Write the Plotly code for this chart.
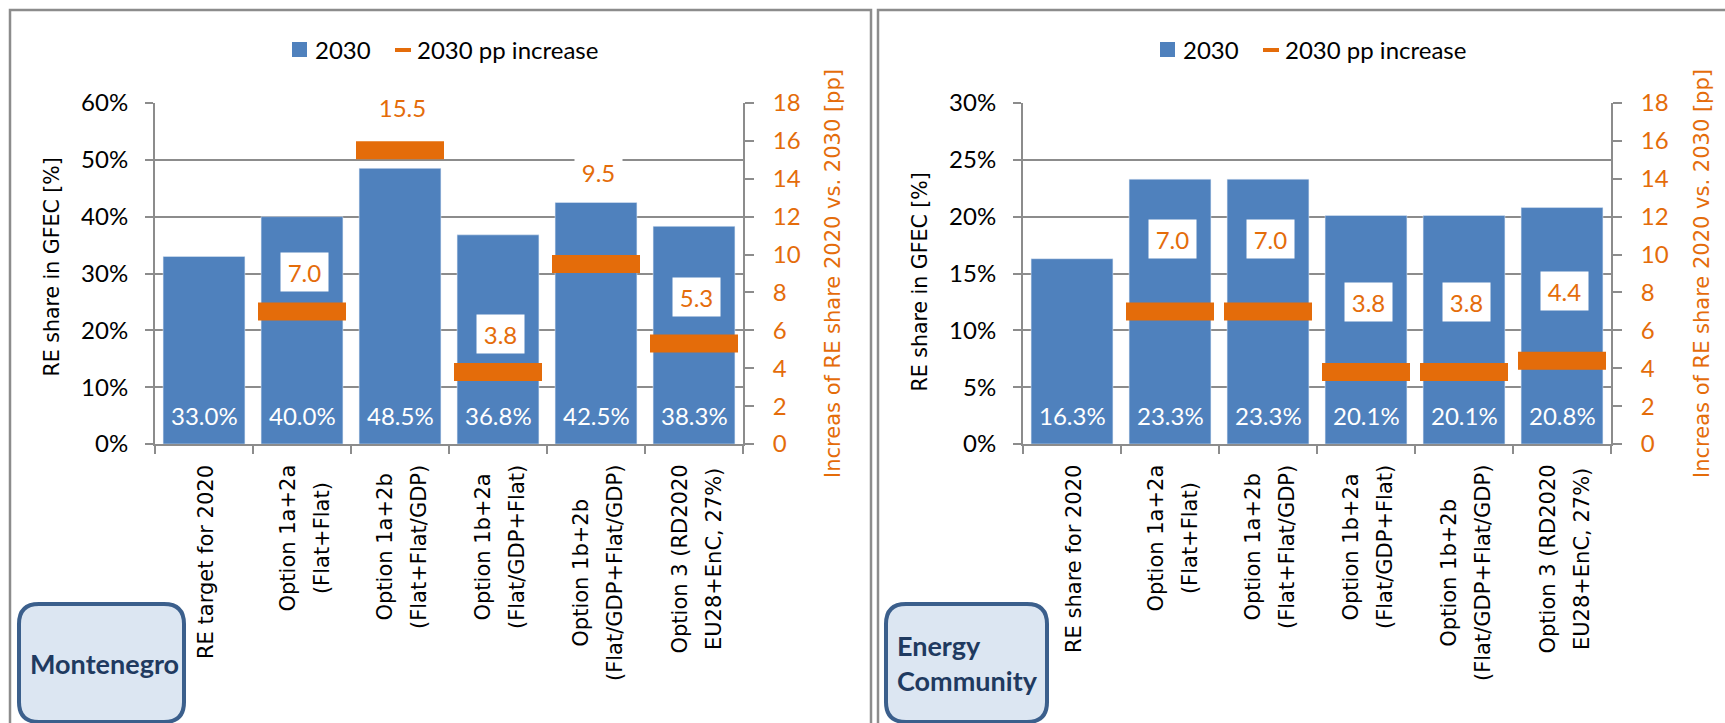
import plotly.graph_objects as go

W, H = 1725, 723

# ---- data -------------------------------------------------------------
categories_me = [
    "RE target for 2020",
    "Option 1a+2a<br>(Flat+Flat)",
    "Option 1a+2b<br>(Flat+Flat/GDP)",
    "Option 1b+2a<br>(Flat/GDP+Flat)",
    "Option 1b+2b<br>(Flat/GDP+Flat/GDP)",
    "Option 3 (RD2020<br>EU28+EnC, 27%)",
]
categories_enc = [
    "RE share for 2020",
    "Option 1a+2a<br>(Flat+Flat)",
    "Option 1a+2b<br>(Flat+Flat/GDP)",
    "Option 1b+2a<br>(Flat/GDP+Flat)",
    "Option 1b+2b<br>(Flat/GDP+Flat/GDP)",
    "Option 3 (RD2020<br>EU28+EnC, 27%)",
]
share_2030_me = [0.330, 0.400, 0.485, 0.368, 0.425, 0.383]
increase_pp_me = [None, 7.0, 15.5, 3.8, 9.5, 5.3]
share_2030_enc = [0.163, 0.233, 0.233, 0.201, 0.201, 0.208]
increase_pp_enc = [None, 7.0, 7.0, 3.8, 3.8, 4.4]

series_names = ["2030", "2030 pp increase"]

# ---- styling ----------------------------------------------------------
BLUE = "#4F81BD"
ORANGE = "#E46C0A"
GRID = "#8C8C8C"
NUM_FONT = "Lato"
TXT_FONT = "DejaVu Sans"

# pixel lift of each pp label above its marker
label_lift_me = [0, 39, 43, 38, 92, 47]
label_lift_enc = [0, 72, 72, 70, 70, 70]

# line-ew markers are drawn 1.4x their nominal size wide
DASH_WIDTH_PX = 88
DASH_THICK_PX = 18


def px(x):
    return x / W


def py(y):
    return 1 - y / H


PLOT_TOP, PLOT_BOTTOM = 103, 444

panels = [
    dict(cats=categories_me, share=share_2030_me, pp=increase_pp_me,
         lift=label_lift_me, x="x", y="y", y2="y2", left=155, right=743,
         yrange=[0, 0.6], dtick=0.1, key_x=292,
         ytitle_x=51.5, ytitle_y=267, y2title_x=833, box=(19, 184),
         box_text="Montenegro"),
    dict(cats=categories_enc, share=share_2030_enc, pp=increase_pp_enc,
         lift=label_lift_enc, x="x2", y="y3", y2="y4", left=1023, right=1611,
         yrange=[0, 0.3], dtick=0.05, key_x=1160,
         ytitle_x=919.5, ytitle_y=282, y2title_x=1702, box=(886, 1047),
         box_text="Energy<br>Community"),
]

fig = go.Figure()
layout = dict(
    width=W, height=H, autosize=False,
    margin=dict(l=0, r=0, t=0, b=0, pad=0, autoexpand=False),
    paper_bgcolor="white", plot_bgcolor="white",
    barmode="overlay", bargap=0.165, showlegend=False,
    font=dict(family=NUM_FONT, size=24, color="black"),
)
annotations = []
shapes = []

axis_line = dict(showline=True, linecolor=GRID, linewidth=2,
                 ticks="outside", tickcolor=GRID, tickwidth=2, automargin=False)

for p in panels:
    xname = "xaxis" + p["x"][1:]
    yname = "yaxis" + p["y"][1:]
    y2name = "yaxis" + p["y2"][1:]
    dom_x = [px(p["left"]), px(p["right"])]
    dom_y = [py(PLOT_BOTTOM), py(PLOT_TOP)]

    layout[xname] = dict(domain=dom_x, anchor=p["y"], type="category",
                         range=[-0.5, 5.5], tickson="boundaries", ticklen=8,
                         showticklabels=False, showgrid=False, zeroline=False,
                         fixedrange=True, **axis_line)
    layout[yname] = dict(domain=dom_y, anchor=p["x"], range=p["yrange"],
                         dtick=p["dtick"], tickformat=".0%", showgrid=True,
                         gridcolor=GRID, gridwidth=2, zeroline=False,
                         ticklen=8, ticklabelstandoff=12,
                         tickfont=dict(family=NUM_FONT, size=24, color="black"),
                         fixedrange=True, **axis_line)
    layout[y2name] = dict(overlaying=p["y"], side="right", anchor=p["x"],
                          range=[0, 18], dtick=2, showgrid=False, zeroline=False,
                          ticklen=9, ticklabelstandoff=14,
                          tickfont=dict(family=NUM_FONT, size=24, color=ORANGE),
                          fixedrange=True, **axis_line)

    fig.add_trace(go.Bar(
        x=p["cats"], y=p["share"], name=series_names[0], xaxis=p["x"],
        yaxis=p["y"], marker=dict(color=BLUE), hoverinfo="skip"))
    fig.add_trace(go.Scatter(
        x=p["cats"], y=p["pp"], name=series_names[1], mode="markers",
        xaxis=p["x"], yaxis=p["y2"], hoverinfo="skip",
        marker=dict(symbol="line-ew", size=DASH_WIDTH_PX / 1.4, color=ORANGE,
                    line=dict(width=DASH_THICK_PX, color=ORANGE))))

    # series key above each panel
    kx = p["key_x"]
    shapes.append(dict(type="rect", xref="paper", yref="paper",
                       x0=px(kx), x1=px(kx + 15), y0=py(57), y1=py(42),
                       fillcolor=BLUE, line=dict(width=0)))
    shapes.append(dict(type="rect", xref="paper", yref="paper",
                       x0=px(kx + 103), x1=px(kx + 119), y0=py(52), y1=py(48),
                       fillcolor=ORANGE, line=dict(width=0)))
    for dx, name in zip([21, 123], series_names):
        annotations.append(dict(
            x=px(kx + dx), y=py(50), xref="paper", yref="paper", text=name,
            showarrow=False, xanchor="left", yanchor="middle",
            font=dict(family=NUM_FONT, size=24, color="black")))

    for cat, v in zip(p["cats"], p["share"]):
        annotations.append(dict(
            x=cat, y=0, xref=p["x"], yref=p["y"], text=f"{v * 100:.1f}%",
            showarrow=False, yanchor="middle", yshift=28,
            font=dict(family=NUM_FONT, size=24, color="white")))

    for cat, v, lift in zip(p["cats"], p["pp"], p["lift"]):
        if v is None:
            continue
        label = f"{v:.1f}"
        annotations.append(dict(
            x=cat, y=v, xref=p["x"], yref=p["y2"], text=label,
            showarrow=False, yanchor="middle", yshift=lift, xshift=2,
            bgcolor="white", borderpad=0, width=16 * len(label) - 1, height=38,
            font=dict(family=NUM_FONT, size=24, color=ORANGE)))

    for cat in p["cats"]:
        lines = cat.split("<br>")
        text = "<br>".join(f'<span style="font-size:21px">{ln}</span>'
                           for ln in lines)
        annotations.append(dict(
            x=cat, y=0, xref=p["x"], yref=p["y"], text=text,
            showarrow=False, textangle=-90, align="center",
            yanchor="top", yshift=-19, xshift=2,
            font=dict(family=TXT_FONT, size=26.2, color="black")))

    annotations.append(dict(
        x=px(p["ytitle_x"]), y=py(p["ytitle_y"]), xref="paper", yref="paper",
        text="RE share in GFEC [%]", showarrow=False, textangle=-90,
        xanchor="center", yanchor="middle",
        font=dict(family=TXT_FONT, size=20.5, color="black")))
    annotations.append(dict(
        x=px(p["y2title_x"]), y=py(274), xref="paper", yref="paper",
        text="Increas of RE share 2020 vs. 2030 [pp]", showarrow=False,
        textangle=-90, xanchor="center", yanchor="middle",
        font=dict(family=TXT_FONT, size=21, color=ORANGE)))

    # rounded label box in the lower-left corner of each panel
    bx0, bx1 = p["box"]
    by0, by1, r = 604, 722, 20
    pts = [
        ("M", [(bx0 + r, by0)]), ("L", [(bx1 - r, by0)]),
        ("Q", [(bx1, by0), (bx1, by0 + r)]), ("L", [(bx1, by1 - r)]),
        ("Q", [(bx1, by1), (bx1 - r, by1)]), ("L", [(bx0 + r, by1)]),
        ("Q", [(bx0, by1), (bx0, by1 - r)]), ("L", [(bx0, by0 + r)]),
        ("Q", [(bx0, by0), (bx0 + r, by0)]),
    ]
    path = " ".join(cmd + " " + " ".join(f"{px(a):.5f},{py(b):.5f}" for a, b in xy)
                    for cmd, xy in pts) + " Z"
    shapes.append(dict(type="path", xref="paper", yref="paper", path=path,
                       fillcolor="#DCE6F2", line=dict(color="#3B5F8C", width=4)))
    annotations.append(dict(
        x=px(bx0 + 9), y=py(663), xref="paper", yref="paper",
        text=f"<b>{p['box_text']}</b>", showarrow=False, align="left",
        xanchor="left", yanchor="middle",
        font=dict(family=NUM_FONT, size=27, color="#1F3A60")))

# panel frames
for x0, x1 in [(10, 871), (878, 1760)]:
    shapes.append(dict(type="rect", xref="paper", yref="paper",
                       x0=px(x0), x1=px(x1), y0=py(10), y1=py(780),
                       line=dict(color=GRID, width=2.5), fillcolor="rgba(0,0,0,0)",
                       layer="below"))

layout["annotations"] = annotations
layout["shapes"] = shapes
fig.update_layout(**layout)

fig.write_html("out.html", config={"displayModeBar": False})
